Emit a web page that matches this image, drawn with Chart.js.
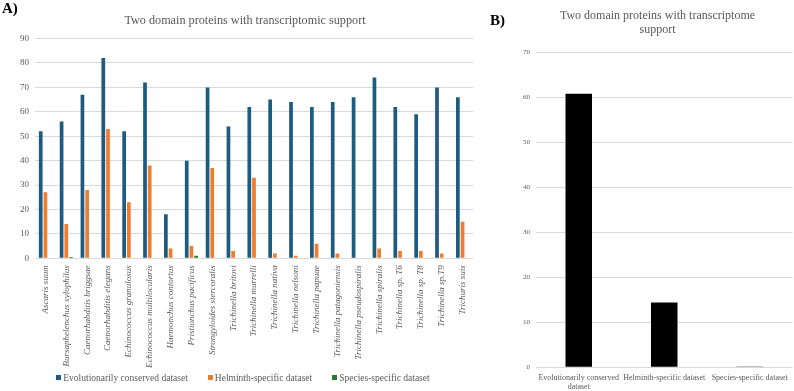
<!DOCTYPE html>
<html>
<head>
<meta charset="utf-8">
<script src="https://cdn.jsdelivr.net/npm/chart.js@4.4.1/dist/chart.umd.min.js"></script>
<style>
  html, body { margin: 0; padding: 0; background: #fff; overflow: hidden; }
  body { width: 794px; height: 391px; position: relative; font-family: 'Liberation Serif', 'Times New Roman', serif; }
  .panel { position: absolute; top: 0; height: 391px; }
  #wrapA { left: 0; width: 498px; }
  #wrapB { left: 515px; width: 279px; }
  .tag { position: absolute; font-weight: bold; font-size: 15px; line-height: 15px; color: #000; }
  #legendA {
    position: absolute; left: 0; width: 486px; top: 373px;
    text-align: center; white-space: nowrap;
    font-size: 9.5px; line-height: 10px; color: #595959;
  }
  #legendA .item { display: inline-block; margin: 0 10px; }
  #legendA .swatch { display: inline-block; width: 5px; height: 5px; margin-right: 2px; vertical-align: 1px; }
</style>
</head>
<body>
<div class="panel" id="wrapA"><canvas id="chartA"></canvas></div>
<div class="panel" id="wrapB"><canvas id="chartB"></canvas></div>
<div id="legendA"></div>
<div class="tag" style="left:2px; top:1px;">A)</div>
<div class="tag" style="left:490px; top:13px;">B)</div>
<script>
const SPECIES = [
  "Ascaris suum", "Bursaphelenchus xylophilus", "Caenorhabditis briggsae",
  "Caenorhabditis elegans", "Echinococcus granulosus", "Echinococcus multilocularis",
  "Haemonchus contortus", "Pristionchus pacificus", "Strongyloides stercoralis",
  "Trichinella britovi", "Trichinella murrelli", "Trichinella nativa",
  "Trichinella nelsoni", "Trichinella papuae", "Trichinella patagoniensis",
  "Trichinella pseudospiralis", "Trichinella spiralis", "Trichinella sp. T6",
  "Trichinella sp. T8", "Trichinella sp.T9", "Trichuris suis",
];
const CONSERVED = [52, 56, 67, 82, 52, 72, 18, 40, 70, 54, 62, 65, 64, 62, 64, 66, 74, 62, 59, 70, 66];
const HELMINTH = [27, 14, 28, 53, 23, 38, 4, 5, 37, 3, 33, 2, 1, 6, 2, 0, 4, 3, 3, 2, 15];
const SPECIES_SPECIFIC = [0, 0.5, 0, 0, 0, 0, 0, 1, 0, 0, 0, 0, 0, 0, 0, 0, 0, 0, 0, 0, 0];

const SUMMARY_LABELS = [
  ["Evolutionarily conserved", "dataset"],
  "Helminth-specific dataset",
  "Species-specific dataset",
];
const SUMMARY_VALUES = [60.8, 14.4, 0.2];

const FONT = "'Liberation Serif', 'Times New Roman', serif";
const GREY = "#595959";
const GRID = "#d9d9d9";

// legend drawn as html so the rotated species names below the axis are not squeezed
const htmlLegend = {
  id: "htmlLegend",
  afterUpdate(chart) {
    const box = document.getElementById("legendA");
    box.innerHTML = "";
    const items = chart.options.plugins.legend.labels.generateLabels(chart);
    items.forEach((item) => {
      const entry = document.createElement("span");
      entry.className = "item";
      const swatch = document.createElement("span");
      swatch.className = "swatch";
      swatch.style.background = item.fillStyle;
      const text = document.createElement("span");
      text.textContent = item.text;
      entry.append(swatch, text);
      box.appendChild(entry);
    });
  },
};

new Chart(document.getElementById("chartA"), {
  type: "bar",
  data: {
    labels: SPECIES,
    datasets: [
      { label: "Evolutionarily conserved dataset", data: CONSERVED, backgroundColor: "#1e5b80" },
      { label: "Helminth-specific dataset", data: HELMINTH, backgroundColor: "#ed7d31" },
      { label: "Species-specific dataset", data: SPECIES_SPECIFIC, backgroundColor: "#287a33" },
    ],
  },
  options: {
    responsive: true,
    maintainAspectRatio: false,
    animation: false,
    datasets: { bar: { categoryPercentage: 0.676, barPercentage: 0.79 } },
    layout: { padding: { left: 17, right: 25, top: 0, bottom: 0 } },
    plugins: {
      title: {
        display: true,
        text: "Two domain proteins with transcriptomic support",
        color: GREY,
        font: { family: FONT, size: 12.2, weight: "normal", lineHeight: 1.2 },
        padding: { top: 13.6, bottom: 10.3 },
      },
      legend: { display: false },
      tooltip: { enabled: false },
    },
    scales: {
      x: {
        grid: { display: false, drawTicks: false },
        border: { display: false },
        ticks: {
          autoSkip: false, minRotation: 90, maxRotation: 90, padding: 7,
          color: GREY, font: { family: FONT, size: 9, style: "italic" },
        },
        afterFit: (scale) => { scale.height = 132.7; },
      },
      y: {
        min: 0,
        max: 90,
        ticks: { stepSize: 10, padding: 6, color: GREY, font: { family: FONT, size: 9 } },
        grid: { color: GRID, drawTicks: false },
        border: { display: false },
        afterFit: (scale) => { scale.width = 18; },
      },
    },
  },
  plugins: [htmlLegend],
});

new Chart(document.getElementById("chartB"), {
  type: "bar",
  data: {
    labels: SUMMARY_LABELS,
    datasets: [{ label: "Average", data: SUMMARY_VALUES, backgroundColor: "#000000" }],
  },
  options: {
    responsive: true,
    maintainAspectRatio: false,
    animation: false,
    datasets: { bar: { categoryPercentage: 1, barPercentage: 0.31 } },
    layout: { padding: { left: 7, right: 1, top: 0, bottom: 0 } },
    plugins: {
      legend: { display: false },
      tooltip: { enabled: false },
      title: {
        display: true,
        text: ["Two domain proteins with transcriptome", "support"],
        color: GREY,
        font: { family: FONT, size: 12, weight: "normal", lineHeight: 1.2 },
        padding: { top: 8.6, bottom: 14.9 },
      },
    },
    scales: {
      x: {
        grid: { display: false, drawTicks: false },
        border: { display: false },
        ticks: {
          autoSkip: false, minRotation: 0, maxRotation: 0, padding: 6,
          color: GREY, font: { family: FONT, size: 8, lineHeight: 1.15 },
        },
        afterFit: (scale) => { scale.height = 23.7; },
      },
      y: {
        min: 0,
        max: 70,
        ticks: { stepSize: 10, padding: 6, color: GREY, font: { family: FONT, size: 7 } },
        grid: { color: GRID, drawTicks: false },
        border: { display: false },
        afterFit: (scale) => { scale.width = 14; },
      },
    },
  },
});
</script>
</body>
</html>
